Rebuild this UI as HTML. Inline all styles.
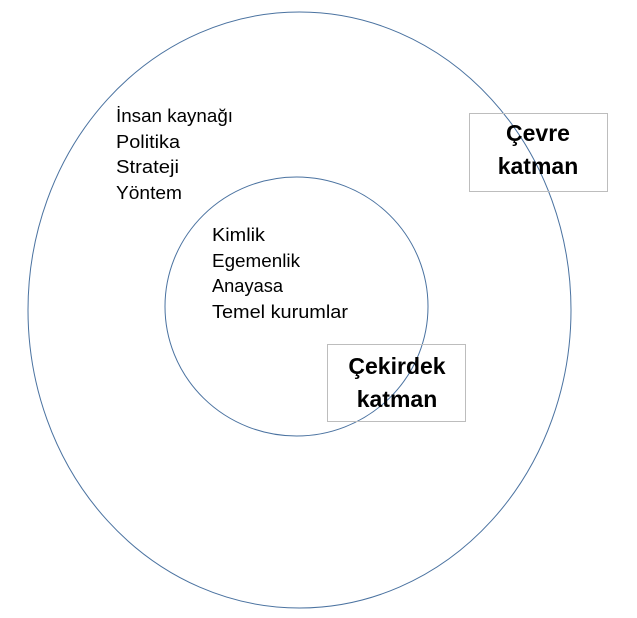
<!DOCTYPE html>
<html><head><meta charset="utf-8"><style>
html,body{margin:0;padding:0;background:#fff;width:637px;height:618px;overflow:hidden}
text{font-family:"Liberation Sans",sans-serif;fill:#000}
</style></head><body>
<svg width="637" height="618" viewBox="0 0 637 618" xmlns="http://www.w3.org/2000/svg">
<ellipse cx="299.5" cy="310" rx="271.5" ry="298" fill="none" stroke="#4a72a0" stroke-width="1"/>
<ellipse cx="296.5" cy="306.5" rx="131.5" ry="129.5" fill="none" stroke="#4a72a0" stroke-width="1"/>
<rect x="469.5" y="113.5" width="138" height="78" fill="none" stroke="#bdbdbd" stroke-width="1"/>
<rect x="327.5" y="344.5" width="138" height="77" fill="none" stroke="#bdbdbd" stroke-width="1"/>
<g font-size="18">
<text x="116" y="122" textLength="117" lengthAdjust="spacingAndGlyphs">İnsan kaynağı</text>
<text x="116" y="148" textLength="64" lengthAdjust="spacingAndGlyphs">Politika</text>
<text x="116" y="173" textLength="63" lengthAdjust="spacingAndGlyphs">Strateji</text>
<text x="116" y="199" textLength="66" lengthAdjust="spacingAndGlyphs">Yöntem</text>
<text x="212" y="241" textLength="53" lengthAdjust="spacingAndGlyphs">Kimlik</text>
<text x="212" y="267" textLength="88" lengthAdjust="spacingAndGlyphs">Egemenlik</text>
<text x="212" y="292" textLength="71" lengthAdjust="spacingAndGlyphs">Anayasa</text>
<text x="212" y="318" textLength="136" lengthAdjust="spacingAndGlyphs">Temel kurumlar</text>
</g>
<g font-size="23" font-weight="bold" text-anchor="middle">
<text x="538" y="141">Çevre</text>
<text x="538" y="174">katman</text>
<text x="397" y="374">Çekirdek</text>
<text x="397" y="407">katman</text>
</g>
</svg>
</body></html>
